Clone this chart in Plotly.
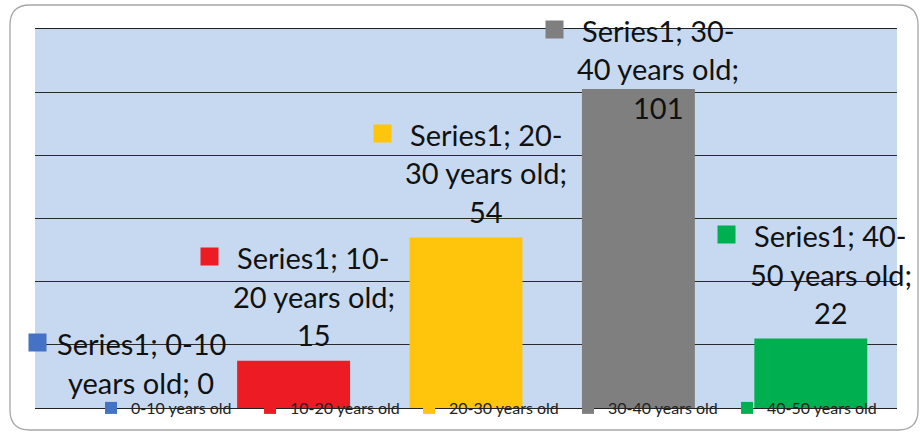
import plotly.graph_objects as go

# ---------------- data ----------------
categories = ["0-10 years old", "10-20 years old", "20-30 years old",
              "30-40 years old", "40-50 years old"]
values = [0, 15, 54, 101, 22]
series_name = "Series1"
colors = ["#4472C4", "#ED1C24", "#FFC40C", "#7F7F7F", "#00B050"]
label_lines = [
    ["Series1; 0-10", "years old; 0"],
    ["Series1; 10-", "20 years old;", "15"],
    ["Series1; 20-", "30 years old;", "54"],
    ["Series1; 30-", "40 years old;", "101"],
    ["Series1; 40-", "50 years old;", "22"],
]
y_max = 120
y_step = 20

# ---------------- layout constants ----------------
W, H = 922, 433
ML, MR, MT, MB = 35, 25, 29, 25
PW, PH = W - ML - MR, H - MT - MB
FONT = "Lato, 'Open Sans', sans-serif"
LABEL_SIZE = 29
LINE = 38.5
GAP = 26

fig = go.Figure()
for cat, val, col in zip(categories, values, colors):
    fig.add_trace(go.Bar(x=[cat], y=[val], name=cat, marker_color=col,
                         marker_line_width=0, width=0.655))

annotations = []
ppu = PH / y_max
for cat, val, col, lines in zip(categories, values, colors, label_lines):
    n = len(lines)
    top = val * ppu
    first = top + GAP + (n - 1) * LINE
    shift = min(0, (PH - 1) - first)
    for k, txt in enumerate(lines):
        annotations.append(dict(
            x=cat, y=val, xref="x", yref="y", text=txt, showarrow=False,
            xanchor="center", yanchor="middle", xshift=20,
            yshift=GAP + (n - 1 - k) * LINE + shift,
            font=dict(family=FONT, size=LABEL_SIZE, color="#111111")))
    annotations.append(dict(
        x=cat, y=val, xref="x", yref="y", text=" ", showarrow=False,
        width=17, height=17, bgcolor=col, borderpad=0,
        xanchor="center", yanchor="middle", xshift=-84,
        yshift=GAP + (n - 1) * LINE + shift + 1))

# rounded outer border (paper coords)
bx0, bx1 = (10 - ML) / PW, (918 - ML) / PW
by0, by1 = (MT + PH - 430) / PH, (MT + PH - 5) / PH
rx, ry = 20 / PW, 20 / PH
path = (f"M{bx0+rx},{by1} L{bx1-rx},{by1} Q{bx1},{by1} {bx1},{by1-ry} "
        f"L{bx1},{by0+ry} Q{bx1},{by0} {bx1-rx},{by0} "
        f"L{bx0+rx},{by0} Q{bx0},{by0} {bx0},{by0+ry} "
        f"L{bx0},{by1-ry} Q{bx0},{by1} {bx0+rx},{by1} Z")

fig.update_layout(
    width=W, height=H,
    margin=dict(l=ML, r=MR, t=MT, b=MB, pad=0, autoexpand=False),
    paper_bgcolor="white", plot_bgcolor="#C6D9F0",
    barmode="overlay",
    showlegend=True,
    legend=dict(orientation="h", x=0.065, y=0, xanchor="left", yanchor="middle",
                bgcolor="rgba(0,0,0,0)", entrywidth=114, entrywidthmode="pixels",
                font=dict(family=FONT, size=16, color="#222222"),
                itemclick=False, itemdoubleclick=False),
    xaxis=dict(range=[-0.5, len(categories) - 0.5], autorange=False,
               showticklabels=False, ticks="", showgrid=False, zeroline=False,
               showline=True, mirror=True, linecolor="#222222", linewidth=1.2,
               fixedrange=True),
    yaxis=dict(range=[0, y_max], dtick=y_step, showticklabels=False, ticks="",
               showgrid=True, gridcolor="#2a2a2a", gridwidth=1.2,
               zeroline=False, showline=False, fixedrange=True),
    annotations=annotations,
    shapes=[dict(type="path", xref="paper", yref="paper", path=path,
                 line=dict(color="#A6A6A6", width=1.3), layer="below")],
)

fig.write_html("out.html", config={"displayModeBar": False})
